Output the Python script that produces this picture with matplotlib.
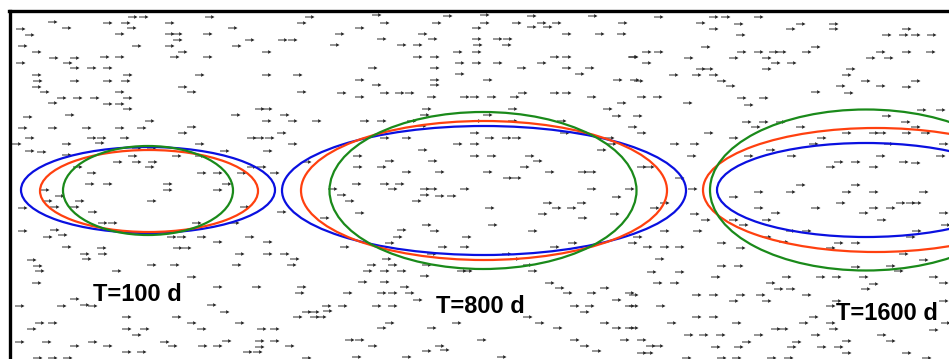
import matplotlib.pyplot as plt
import numpy as np
from matplotlib.patches import Ellipse

# plume outlines at three times, three models (blue / red / green)
# values in image pixel units: centre x, centre y, full width, full height
times = ["T=100 d", "T=800 d", "T=1600 d"]
label_x = [137, 480, 887]
label_y = [301, 313, 320]

blue_cx = [148, 484, 866]
blue_cy = [190, 190.5, 190]
blue_w = [254, 404, 298]
blue_h = [86, 129, 94]

red_cx = [149, 484, 876]
red_cy = [191, 190.5, 190]
red_w = [218, 366, 346]
red_h = [82, 139, 124]

green_cx = [148, 483, 866]
green_cy = [190.5, 190.5, 190]
green_w = [170, 307, 312]
green_h = [89, 157, 161]

# velocity arrows (tail positions), all pointing in +x
arrows_left_top = [
    (128, 17), (139, 17), (48, 22), (103, 23), (121, 23), (165, 23), (205, 17), (297, 23), (305, 17),
    (16, 29), (25, 35), (62, 28), (115, 34), (127, 28), (165, 34), (173, 34), (203, 34), (228, 28),
    (173, 40), (245, 40), (278, 40), (288, 40), (18, 46), (132, 46), (165, 46), (232, 46), (32, 52),
    (178, 52), (262, 52), (49, 58), (70, 58), (100, 57), (115, 57), (170, 57), (203, 57), (16, 63),
    (63, 63), (70, 68), (87, 68), (103, 68), (32, 75), (123, 75), (195, 75), (262, 75), (293, 75),
    (33, 81), (70, 81), (103, 81), (121, 81), (32, 87), (178, 87), (40, 92), (115, 92), (187, 92),
    (297, 92), (57, 98), (73, 98), (90, 98), (48, 103), (103, 104), (115, 104), (123, 98), (123, 109),
    (255, 109), (263, 109), (23, 117), (65, 115), (231, 115), (262, 121), (280, 115), (288, 121),
    (312, 121), (18, 128), (48, 128), (82, 128), (115, 128), (137, 128), (145, 121), (187, 127),
    (178, 133), (25, 138), (87, 138), (97, 138), (120, 138), (247, 138), (255, 138), (265, 138),
    (277, 133), (12, 144), (62, 144), (95, 143), (195, 144), (288, 144), (25, 151), (37, 152),
    (62, 155), (128, 156), (132, 148), (147, 149), (172, 156), (195, 156), (220, 151), (263, 151),
    (113, 162), (132, 162), (148, 162), (145, 167), (73, 167), (247, 167), (257, 167), (87, 173),
    (197, 173), (213, 173), (237, 173), (270, 173), (302, 162),
]
arrows_left_bottom = [
    (85, 184), (103, 184), (163, 184), (163, 190), (213, 190), (222, 184), (40, 190), (55, 196),
    (75, 201), (43, 201), (147, 201), (50, 207), (70, 207), (18, 208), (88, 212), (240, 207),
    (277, 212), (98, 223), (108, 223), (192, 223), (230, 223), (18, 231), (43, 237), (50, 230),
    (58, 235), (167, 237), (177, 237), (197, 237), (213, 242), (245, 237), (263, 242), (62, 247),
    (97, 248), (80, 254), (98, 254), (173, 248), (182, 248), (235, 254), (263, 254), (280, 254),
    (290, 259), (27, 260), (82, 259), (33, 266), (35, 271), (112, 271), (147, 265), (170, 265),
    (232, 265), (287, 265), (187, 277), (32, 283), (213, 287), (252, 287), (297, 287), (295, 293),
    (15, 306), (57, 306), (70, 299), (80, 305), (88, 306), (207, 305), (220, 312), (293, 317),
    (302, 312), (310, 317), (122, 317), (172, 317), (187, 323), (197, 329), (235, 323), (27, 329),
    (35, 323), (48, 323), (122, 329), (132, 335), (140, 329), (257, 329), (270, 329), (15, 342),
    (42, 342), (70, 346), (88, 342), (103, 346), (160, 342), (168, 346), (198, 346), (213, 346),
    (222, 341), (255, 341), (255, 347), (270, 341), (285, 346), (122, 352), (137, 352), (33, 358),
    (48, 358), (63, 358), (243, 352), (253, 352), (302, 358),
]
arrows_mid_top = [
    (372, 15), (380, 23), (432, 23), (443, 16), (480, 23), (472, 28), (480, 15), (512, 23), (527, 16),
    (527, 27), (537, 23), (543, 27), (552, 23), (588, 16), (618, 23), (335, 34), (355, 28), (418, 34),
    (428, 39), (377, 39), (397, 45), (413, 45), (330, 45), (472, 39), (493, 39), (503, 39), (473, 45),
    (502, 45), (562, 34), (595, 34), (617, 34), (453, 52), (472, 52), (413, 57), (430, 57), (455, 63),
    (472, 63), (493, 63), (537, 63), (550, 57), (562, 57), (628, 57), (368, 68), (430, 68), (455, 74),
    (517, 68), (562, 68), (575, 74), (585, 68), (355, 80), (430, 80), (430, 85), (483, 80), (613, 80),
    (630, 80), (372, 85),
]
arrows_mid = [
    (337, 93), (355, 97), (380, 93), (395, 93), (405, 93), (427, 97), (460, 97), (470, 97), (487, 97),
    (510, 97), (518, 93), (550, 93), (562, 93), (587, 97), (637, 97), (653, 97), (683, 103), (617, 103),
    (603, 109), (612, 116), (633, 116), (628, 127), (637, 133), (422, 109), (420, 115), (483, 115),
    (508, 109), (360, 121), (377, 121), (407, 121), (417, 126), (472, 121), (508, 121), (557, 121),
    (470, 133), (560, 133), (577, 133), (380, 138), (402, 138), (485, 138), (502, 138), (512, 138),
    (605, 138), (607, 144), (418, 150), (453, 144), (470, 144), (597, 150), (670, 144), (690, 144),
    (470, 156), (487, 156), (353, 156), (525, 156), (533, 161), (687, 156), (428, 161), (385, 161),
    (353, 167), (377, 167), (402, 172), (435, 172), (483, 172), (520, 167), (545, 172), (578, 172),
    (587, 172), (637, 167), (645, 167), (503, 178), (512, 178), (675, 178), (328, 189), (352, 184),
    (380, 184), (388, 189), (395, 184), (420, 189), (428, 189), (435, 196), (447, 196), (460, 189),
    (587, 189), (625, 189), (688, 189), (337, 195), (345, 201), (412, 201), (420, 195), (612, 197),
    (543, 203), (552, 208), (567, 208), (577, 203), (485, 208), (650, 208), (660, 203), (355, 213),
    (538, 214), (610, 214), (690, 214), (320, 218), (578, 218), (422, 225), (430, 231), (488, 225),
    (528, 231), (660, 231), (693, 231), (397, 230), (393, 237), (462, 237), (385, 243), (568, 243),
    (628, 243), (633, 237), (340, 247), (438, 247), (460, 247), (550, 247), (643, 247), (660, 247),
    (675, 247), (655, 259), (647, 272), (675, 272), (653, 283), (670, 283),
]
arrows_mid_bottom = [
    (367, 265), (382, 259), (388, 265), (363, 271), (380, 271), (397, 271), (422, 265), (420, 276),
    (358, 282), (380, 282), (400, 287), (457, 271), (463, 271), (523, 265), (528, 271), (502, 254),
    (510, 259), (545, 283), (427, 254), (343, 293), (377, 293), (388, 293), (405, 293), (413, 300),
    (322, 306), (338, 306), (372, 306), (388, 306), (310, 312), (317, 317), (323, 311), (523, 317),
    (535, 323), (553, 328), (377, 328), (385, 323), (427, 328), (452, 323), (570, 306), (580, 312),
    (585, 306), (587, 293), (600, 288), (612, 300), (625, 293), (625, 306), (555, 288), (563, 293),
    (600, 323), (612, 328), (625, 328), (345, 340), (355, 340), (368, 346), (435, 346), (440, 350),
    (477, 340), (570, 340), (580, 346), (592, 351), (620, 340), (422, 351), (352, 357), (402, 357),
    (497, 357),
]
arrows_right_top = [
    (654, 17), (696, 23), (709, 17), (721, 17), (734, 24), (754, 17), (709, 29), (786, 29), (796, 24),
    (829, 29), (829, 24), (736, 35), (882, 35), (899, 35), (911, 35), (927, 35), (902, 29), (701, 47),
    (629, 57), (642, 52), (654, 52), (642, 63), (684, 58), (729, 58), (737, 52), (754, 52), (769, 52),
    (777, 52), (802, 52), (811, 47), (762, 58), (771, 63), (787, 63), (762, 69), (696, 69), (704, 69),
    (866, 58), (876, 52), (884, 58), (902, 52), (926, 52), (846, 69), (842, 75), (669, 75), (692, 75),
    (709, 75), (717, 81), (726, 86), (634, 81), (811, 92), (836, 86), (844, 93), (861, 81), (876, 86),
    (902, 87), (911, 81), (737, 98), (744, 105), (759, 98), (742, 122), (751, 127), (759, 122),
    (776, 122), (704, 133), (729, 138), (796, 127), (817, 138), (842, 133), (869, 133), (877, 133),
    (884, 144), (902, 133), (911, 127), (921, 133), (917, 110), (936, 110), (882, 116), (901, 122),
    (744, 156), (766, 150), (787, 156), (809, 144), (876, 156), (936, 156), (826, 167), (834, 162),
    (851, 162), (869, 167), (899, 162), (911, 163), (939, 144),
]
arrows_right_bottom = [
    (729, 197), (754, 192), (786, 192), (796, 185), (842, 192), (851, 185), (869, 192), (919, 192),
    (836, 203), (896, 203), (906, 203), (912, 203), (811, 208), (754, 208), (771, 213), (859, 213),
    (869, 208), (886, 208), (939, 213), (701, 220), (729, 220), (739, 225), (762, 220), (877, 220),
    (941, 225), (786, 231), (802, 231), (912, 231), (906, 237), (717, 243), (762, 237), (779, 242),
    (834, 243), (851, 243), (736, 248), (826, 248), (899, 254), (919, 260), (717, 266), (734, 266),
    (851, 267), (886, 266), (894, 271), (711, 277), (782, 277), (816, 277), (832, 277), (859, 277),
    (929, 277), (766, 283), (774, 289), (786, 289), (861, 289), (869, 284), (939, 283), (629, 295),
    (692, 295), (709, 295), (736, 295), (756, 295), (729, 301), (762, 301), (802, 295), (832, 301),
    (629, 306), (656, 306), (826, 306), (939, 301), (692, 317), (709, 317), (667, 323), (732, 323),
    (771, 329), (779, 329), (799, 323), (826, 323), (809, 317), (829, 329), (629, 328), (684, 335),
    (699, 335), (716, 335), (754, 335), (811, 335), (877, 335), (929, 330), (941, 323), (637, 340),
    (646, 346), (654, 346), (711, 347), (734, 347), (742, 342), (787, 347), (792, 342), (817, 347),
    (834, 347), (842, 341), (886, 341), (637, 353), (644, 353), (682, 358), (717, 358), (732, 358),
    (767, 358), (784, 358), (842, 353), (902, 353), (922, 358),
]

W, H = 949, 359
fig = plt.figure(figsize=(W / 100, H / 100), dpi=100)
# axes box = the framed area (frame only on top and left like the source)
ax = fig.add_axes([9.5 / W, 0, (W - 9.5) / W, (H - 11) / H])
ax.set_xlim(9.5, W)
ax.set_ylim(H, 11)
ax.set_xticks([])
ax.set_yticks([])
for side in ["right", "bottom"]:
    ax.spines[side].set_visible(False)
for side in ["top", "left"]:
    ax.spines[side].set_linewidth(2.4)
    ax.spines[side].set_color("black")

pts = np.array(arrows_left_top + arrows_left_bottom + arrows_mid_top + arrows_mid
               + arrows_mid_bottom + arrows_right_top + arrows_right_bottom, dtype=float)
ax.quiver(pts[:, 0], pts[:, 1], np.full(len(pts), 9.5), np.zeros(len(pts)),
          angles="xy", scale_units="xy", scale=1, color="#222222",
          width=0.001, headwidth=4, headlength=3.8, headaxislength=3.4,
          zorder=2)

model_sets = [
    (blue_cx, blue_cy, blue_w, blue_h, "#0a10e0"),
    (red_cx, red_cy, red_w, red_h, "#ff400f"),
    (green_cx, green_cy, green_w, green_h, "#1a8a1a"),
]
for cx, cy, w, h, col in model_sets:
    for i in range(len(times)):
        ax.add_patch(Ellipse((cx[i], cy[i]), w[i], h[i], fill=False,
                             edgecolor=col, linewidth=1.6, zorder=3))

for lab, x, y in zip(times, label_x, label_y):
    ax.text(x, y, lab, ha="center", va="baseline", fontsize=17,
            fontweight="bold", family="Liberation Sans", color="black", zorder=4)

fig.savefig("out.png", dpi=100)
